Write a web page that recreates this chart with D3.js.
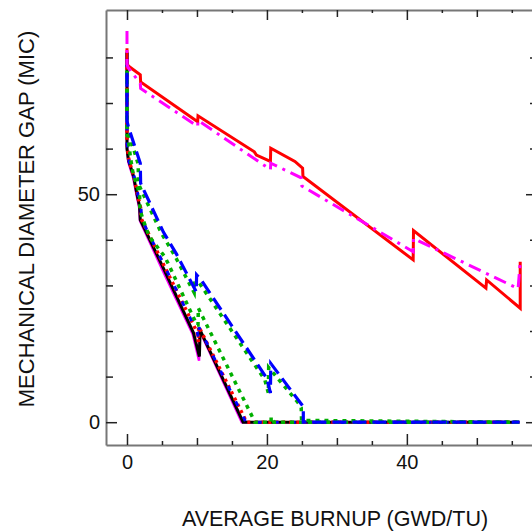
<!DOCTYPE html>
<html>
<head>
<meta charset="utf-8">
<script src="https://cdn.jsdelivr.net/npm/d3@7"></script>
<style>
  body { margin: 0; background: #fff; }
  svg { display: block; }
  text { font-family: "Liberation Sans", Arial, sans-serif; fill: #111; }
</style>
</head>
<body>
<div id="chart"></div>
<script>
// ticks and labels
var xTicks = [0, 5, 10, 15, 20, 25, 30, 35, 40, 45, 50, 55];
var xLabels = [0, 20, 40];
var yTicks = [0, 10, 20, 30, 40, 50, 60, 70, 80];
var yLabels = [0, 50];

// upper pair (burnup GWD/TU, gap MIC)
var redSolid = [[0, 82], [0, 78.5], [0.3, 78], [1.9, 76.2], [1.95, 74.6], [10.1, 65.9], [10.15, 67.2],
  [18.2, 59.3], [18.5, 58.6], [20.5, 57.2], [20.55, 60.1], [24.0, 57.2], [25.1, 55.7], [25.15, 53.9],
  [40.9, 35.6], [40.95, 42.0], [51.3, 29.4], [51.4, 31.2], [56.2, 25.0], [56.2, 35.2]];
var magentaDashDot = [[0, 85.8], [0, 78.5], [0.15, 77.8], [1.9, 74.3], [1.95, 73.2], [10.1, 64.9], [10.15, 66.2],
  [20.5, 55.4], [20.55, 56.8], [24.9, 53.6], [25.0, 51.8], [40.9, 37.4], [40.95, 40.3],
  [51.4, 32.6], [55.9, 29.3], [56.2, 35.2]];

// lower group
var magentaInner = [[0, 81], [0, 60], [0.2, 57], [0.9, 53.5], [1.35, 50], [1.75, 47], [1.85, 44.2],
  [5.0, 33.6], [9.4, 19.3], [10.3, 13.5], [10.35, 20.2], [16.4, 0], [56.1, 0]];
var blackSolid = [[0, 81], [0, 60], [0.2, 57.5], [0.95, 53.9], [1.4, 50.2], [1.8, 47.3], [1.9, 44.4],
  [5.2, 33.8], [9.5, 19.6], [10.35, 14.4], [10.45, 20.2], [16.6, 0], [56.1, 0]];
var redDotted = [[0, 81], [0, 61], [0.3, 57.3], [1.05, 53.6], [1.5, 50], [1.95, 47], [2.05, 44.6],
  [5.4, 34], [10.0, 19.8], [10.2, 17.6], [10.25, 21], [17.1, 0], [56.1, 0]];
var blueInner = [[0, 80], [0, 61], [0.3, 57.2], [1.1, 53.5], [1.55, 50], [2.0, 47], [2.1, 44.5],
  [5.45, 34], [10.05, 19.7], [10.25, 18.2], [10.3, 20.8], [17.0, 0], [56.1, 0]];
var greenMiddle = [[0, 81], [0, 63], [0.15, 62.6], [0.5, 58], [0.86, 54.6], [1.8, 50.2], [1.85, 46.6],
  [2.3, 44.4], [3.2, 40.7], [5.4, 36.3], [6.1, 34.1], [10.0, 21.3], [10.15, 21.3], [10.2, 25],
  [18.3, 0], [20.6, 0], [20.6, 1.2], [21.0, 0], [56.1, 0]];
var blueOuter = [[0, 81], [0, 66], [0.2, 64.8], [1.9, 56.8], [1.95, 52.4], [5.2, 41.7], [7.1, 36.8],
  [9.9, 28.6], [9.95, 32.3], [10.6, 31.2], [20.0, 9.6], [20.5, 6.4], [20.55, 12.9], [24.8, 4.2],
  [25.2, 3.4], [25.2, 0], [56.1, 0]];
var greenOuter = [[0, 81], [0, 65], [0.1, 64.2], [1.6, 56.6], [1.65, 52.2], [4.9, 41.5], [6.8, 36.6],
  [9.6, 28.4], [9.65, 30.5], [10.3, 30.6], [19.7, 9.3], [20.2, 6.4], [20.25, 12.0], [24.5, 4.2],
  [24.9, 3.2], [24.95, 0.4], [56.1, 0]];

var series = [
  { data: magentaInner, color: "#ff00ff", width: 2.5, dash: null },
  { data: blackSolid, color: "#000000", width: 3, dash: null },
  { data: redDotted, color: "#ff0000", width: 3.5, dash: "3,4" },
  { data: blueInner, color: "#0000ff", width: 3, dash: "5,12" },
  { data: greenMiddle, color: "#00b000", width: 3.5, dash: "4,5" },
  { data: greenOuter, color: "#00b000", width: 3.5, dash: "4,5" },
  { data: blueOuter, color: "#0000ff", width: 3.2, dash: "14,6" },
  { data: redSolid, color: "#ff0000", width: 3, dash: null },
  { data: magentaDashDot, color: "#ff00ff", width: 3, dash: "13,6,3,6" }
];

var width = 532, height = 532;
var plot = { left: 106, right: 537, top: 10, bottom: 445 };

var svg = d3.select('#chart').append('svg')
  .attr('width', width)
  .attr('height', height);

var x = d3.scaleLinear().domain([-3, 58.6]).range([plot.left, plot.right]);
var y = d3.scaleLinear().domain([-5, 90.4]).range([plot.bottom, plot.top]);

function xTickLen(d) {
  if (xLabels.includes(d)) return 11;
  if (d % 10 === 0) return 7;
  return 4;
}
function yTickLen(d) {
  return yLabels.includes(d) ? 11 : 7;
}

// bottom axis
var gB = svg.append('g').attr('transform', 'translate(0,' + plot.bottom + ')')
  .call(d3.axisBottom(x).tickValues(xTicks).tickSize(0).tickSizeOuter(0).tickPadding(10)
    .tickFormat(d => xLabels.includes(d) ? d : ''));
gB.selectAll('.tick line').attr('y2', d => -xTickLen(d));

// top axis
var gT = svg.append('g').attr('transform', 'translate(0,' + plot.top + ')')
  .call(d3.axisTop(x).tickValues(xTicks).tickSize(0).tickSizeOuter(0).tickFormat(''));
gT.selectAll('.tick line').attr('y2', d => xTickLen(d) === 4 ? 3 : (xLabels.includes(d) ? 10 : 7));

// left axis
var gL = svg.append('g').attr('transform', 'translate(' + plot.left + ',0)')
  .call(d3.axisLeft(y).tickValues(yTicks).tickSize(0).tickSizeOuter(0).tickPadding(6)
    .tickFormat(d => yLabels.includes(d) ? d : ''));
gL.selectAll('.tick line').attr('x2', d => yTickLen(d));

// right axis
var gR = svg.append('g').attr('transform', 'translate(' + plot.right + ',0)')
  .call(d3.axisRight(y).tickValues(yTicks).tickSize(0).tickSizeOuter(0).tickFormat(''));
gR.selectAll('.tick line').attr('x2', d => -yTickLen(d));

svg.selectAll('.domain').attr('stroke', '#777').attr('stroke-width', 2);
svg.selectAll('.tick line').attr('stroke', '#222').attr('stroke-width', 1.5);
svg.selectAll('.tick text').attr('font-size', 20).style('font-family', '"Liberation Sans", Arial, sans-serif').attr('fill', '#111');

// lines
var line = d3.line().x(d => x(d[0])).y(d => y(d[1]));

svg.append('g')
  .selectAll('path')
  .data(series)
  .enter().append('path')
  .attr('d', d => line(d.data))
  .attr('fill', 'none')
  .attr('stroke', d => d.color)
  .attr('stroke-width', d => d.width)
  .attr('stroke-dasharray', d => d.dash)
  .attr('stroke-linejoin', 'miter')
  .attr('stroke-linecap', 'butt');

// axis titles
svg.append('text')
  .attr('x', 335)
  .attr('y', 526)
  .attr('text-anchor', 'middle')
  .attr('font-size', 21.5)
  .text('AVERAGE BURNUP (GWD/TU)');

svg.append('text')
  .attr('transform', 'translate(34,219) rotate(-90)')
  .attr('text-anchor', 'middle')
  .attr('font-size', 22)
  .text('MECHANICAL DIAMETER GAP (MIC)');
</script>
</body>
</html>
